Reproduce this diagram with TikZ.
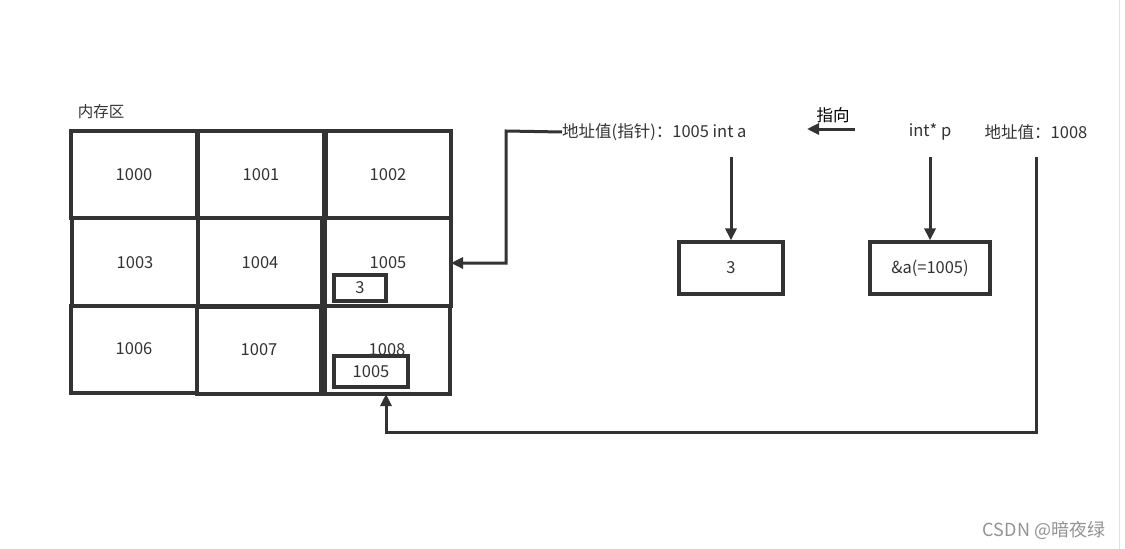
\documentclass[tikz,border=0pt]{standalone}
\usepackage{fontspec}
\setmainfont{Noto Sans CJK SC}
\usetikzlibrary{arrows.meta}
\definecolor{ln}{HTML}{333333}
\tikzset{
  x=1pt,y=-1pt,
  cell/.style={draw=ln,line width=3.2pt,fill=white},
  small/.style={draw=ln,line width=3.2pt,fill=white,inner sep=0pt,font=\fontsize{16.5}{18}\selectfont,text=ln},
  lbl/.style={inner sep=0pt,font=\fontsize{16.5}{18}\selectfont,text=ln},
  conn/.style={draw=ln,line width=3pt,-{Triangle[length=12pt,width=11pt]}},
}
\begin{document}
\begin{tikzpicture}
\useasboundingbox (0,0) rectangle (1125,549);
\fill[white] (0,0) rectangle (1125,549);
\draw[gray!25,line width=1pt] (1119,0) -- (1119,549);
% label
\node[lbl,font=\fontsize{15.5}{17}\selectfont] (mem) at (101,112) {内存区};
% grid cells
\path[cell] (71,131) rectangle (197,218);
\path[cell] (198,131) rectangle (324,218);
\path[cell] (326,131) rectangle (451,218);
\path[cell] (72,218) rectangle (198,306);
\path[cell] (198,218) rectangle (322,306);
\path[cell] (325,218) rectangle (451,306);
\path[cell] (71,306) rectangle (197,393);
\path[cell] (197,307) rectangle (321,394);
\path[cell] (325,306) rectangle (450,394);
\coordinate (c1005r) at (451,263);
\coordinate (c1008b) at (386,394);
\node[lbl] (t1000) at (134,175) {1000};
\node[lbl] (t1001) at (261,175) {1001};
\node[lbl] (t1002) at (388,175) {1002};
\node[lbl] (t1003) at (135,263) {1003};
\node[lbl] (t1004) at (260,263) {1004};
\node[lbl] (t1005) at (388,263) {1005};
\node[lbl] (t1006) at (134,349) {1006};
\node[lbl] (t1007) at (259,350) {1007};
\node[lbl] (t1008) at (387,350) {1008};
\node[small,minimum width=52pt,minimum height=26pt] (v3) at (360,288) {3};
\node[small,minimum width=74pt,minimum height=31pt] (v1005) at (371,371.5) {1005};
% top texts
\node[lbl,anchor=west] (inta) at (562,132) {地址值(指针)：1005 int a};
\node[lbl,text=black] (pt) at (833,115) {指向};
\coordinate (ptr) at (855,129);
\coordinate (ptl) at (807,129);
\node[lbl] (intp) at (930,132) {int* p};
\node[lbl] (addr) at (1036,132) {地址值：1008};
% boxes
\node[small,minimum width=104pt,minimum height=52pt] (b3) at (731,268) {3};
\node[small,minimum width=120pt,minimum height=52pt] (ba) at (930,268) {\&a(=1005)};
% connectors
\draw[conn] (inta.west) -- (506,131) |- (c1005r);
\draw[conn] (ptr) -- (ptl);
\draw[conn] (731,157) -- (b3.north);
\draw[conn] (930,157) -- (ba.north);
\draw[conn] (1036,157) |- (386,432) -- (c1008b);
% watermark
\node[inner sep=0pt,text=gray!85,font=\fontsize{18}{20}\selectfont] (wm) at (1044,530) {CSDN @暗夜绿};
\end{tikzpicture}
\end{document}
